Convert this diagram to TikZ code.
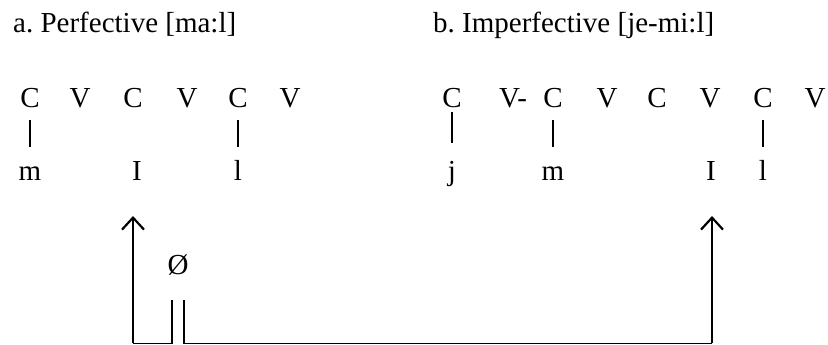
\documentclass[tikz,border=0pt]{standalone}
\usepackage{fontspec}
\setmainfont{Liberation Serif}
\usetikzlibrary{arrows.meta}
\frenchspacing
\begin{document}
\begin{tikzpicture}[x=1pt,y=-1pt,
  every node/.style={inner sep=0pt,font=\fontsize{29}{34}\selectfont},
  title/.style={anchor=base west},
  slot/.style={anchor=base,text height=19pt,text depth=0pt},
  seg/.style={anchor=base,text height=19pt,text depth=6pt},
  bar/.style={line width=1.5pt},
  thinline/.style={line width=1.4pt},
  arr/.style={line width=2.2pt,-{Straight Barb[length=12pt,width=22pt]}}]
\useasboundingbox (0,0) rectangle (828,345);
% titles
\node[title] (ta) at (13,33) {a. Perfective [ma:l]};
\node[title] (tb) at (433,33) {b. Imperfective [je-mi:l]};
% perfective skeleton
\node[slot] (pc1) at (30,107) {C};
\node[slot] (pv1) at (80,107) {V};
\node[slot] (pc2) at (133,107) {C};
\node[slot] (pv2) at (187,107) {V};
\node[slot] (pc3) at (238,107) {C};
\node[slot] (pv3) at (290,107) {V};
\node[seg] (pm) at (30,180) {m};
\node[seg] (pi) at (137,180) {I};
\node[seg] (pl) at (238,180) {l};
\draw[bar,shorten <=13pt,shorten >=14pt] (pc1.south) -- (pm.north);
\draw[bar,shorten <=13pt,shorten >=14pt] (pc3.south) -- (pl.north);
% imperfective skeleton
\node[slot] (ic1) at (452,107) {C};
\node[slot] (iv1) at (513,107) {V-};
\node[slot] (ic2) at (553,107) {C};
\node[slot] (iv2) at (607,107) {V};
\node[slot] (ic3) at (657,107) {C};
\node[slot] (iv3) at (710,107) {V};
\node[slot] (ic4) at (763,107) {C};
\node[slot] (iv4) at (815,107) {V};
\node[seg] (ij) at (452,180) {j};
\node[seg] (im) at (553,180) {m};
\node[seg] (ii) at (711,180) {I};
\node[seg] (il) at (763,180) {l};
\draw[bar,shorten <=5pt,shorten >=18pt] (ic1.south) -- (ij.north);
\draw[bar,shorten <=13pt,shorten >=14pt] (ic2.south) -- (im.north);
\draw[bar,shorten <=13pt,shorten >=14pt] (ic4.south) -- (il.north);
% null element
\node (null) at (178,265) {Ø};
% connectors
\coordinate (tl) at (133,216);
\coordinate (bl) at (133,343.3);
\coordinate (g1t) at (172,300);
\coordinate (g1b) at (172,343.3);
\coordinate (g2t) at (184,300);
\coordinate (g2b) at (184,343.3);
\coordinate (br) at (712,343.3);
\coordinate (tr) at (712,216);
\draw[thinline] (g1t) -- (g1b) -- (bl);
\draw[thinline] (g2t) -- (g2b) -- (br);
\draw[arr] (bl) -- (tl);
\draw[arr] (br) -- (tr);
\end{tikzpicture}
\end{document}
